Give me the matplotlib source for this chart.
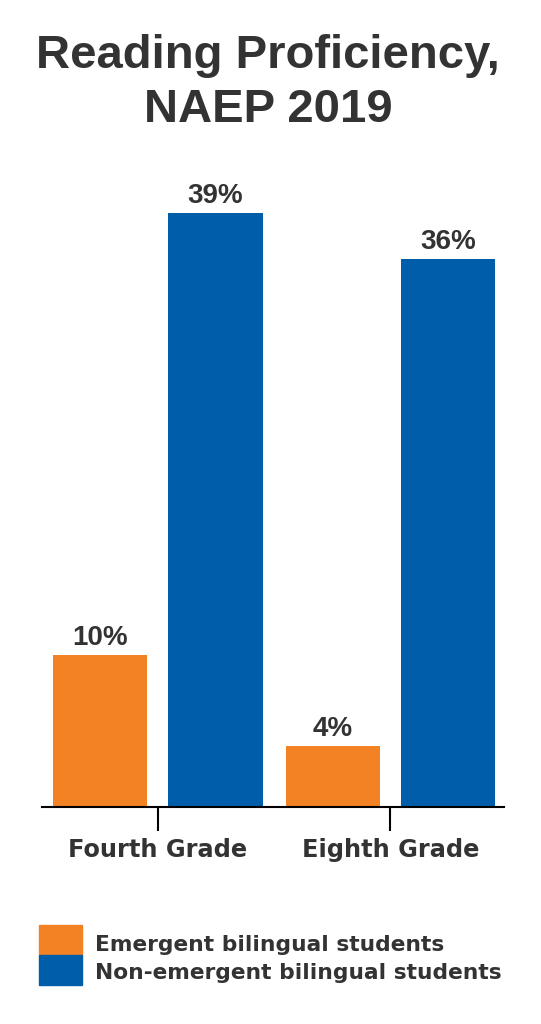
import matplotlib
matplotlib.use("Agg")
import matplotlib.pyplot as plt
from matplotlib.patches import Rectangle
import numpy as np

plt.rcParams['font.family'] = ['Liberation Sans', 'DejaVu Sans']

title = "Reading Proficiency,\nNAEP 2019"
categories = ["Fourth Grade", "Eighth Grade"]
series_names = ["Emergent bilingual students", "Non-emergent bilingual students"]
emergent = [10, 4]
non_emergent = [39, 36]
colors = ["#F28224", "#005DAA"]
text_color = "#333333"

fig = plt.figure(figsize=(5.41, 10.24), dpi=100)
ax = fig.add_axes([42/541, 1 - 807/1024, (504-42)/541, 609/1024])

x = np.arange(len(categories))
w = 0.405
off = 0.248
b1 = ax.bar(x - off, emergent, w, color=colors[0])
b2 = ax.bar(x + off, non_emergent, w, color=colors[1])
for bars, vals in ((b1, emergent), (b2, non_emergent)):
    for r, v in zip(bars, vals):
        ax.annotate(f"{v}%", (r.get_x() + r.get_width()/2, v), xytext=(0, 3),
                    textcoords="offset points", ha="center", va="bottom",
                    fontsize=20, fontweight="bold", color=text_color)

ax.set_xlim(-0.498, 1.489)
ax.set_ylim(0, 40)
ax.set_xticks(x)
ax.set_xticklabels(categories, fontsize=17.3, fontweight="bold", color=text_color,
                   family="DejaVu Sans")
ax.tick_params(axis="x", length=17, width=1.5, color="black", pad=5.5, direction="out")
ax.set_yticks([])
for s in ("left", "right", "top"):
    ax.spines[s].set_visible(False)
ax.spines["bottom"].set_linewidth(1.5)
ax.spines["bottom"].set_color("black")

fig.text(268/541, 1 - 34/1024, title, ha="center", va="top", fontsize=34,
         fontweight="bold", color=text_color, linespacing=1.3)

# legend
sq_h = 30/1024
ys = [1 - 955/1024, 1 - 985/1024]
txt_y = [1 - 945/1024, 1 - 973/1024]
for y0, ty, c, name in zip(ys, txt_y, colors, series_names):
    fig.add_artist(Rectangle((39/541, y0), 43/541, sq_h, transform=fig.transFigure,
                             color=c))
    fig.text(95/541, ty, name, ha="left", va="center", fontsize=15.7,
             fontweight="bold", color=text_color, family="DejaVu Sans")

fig.savefig("out.png", dpi=100, facecolor="white")
